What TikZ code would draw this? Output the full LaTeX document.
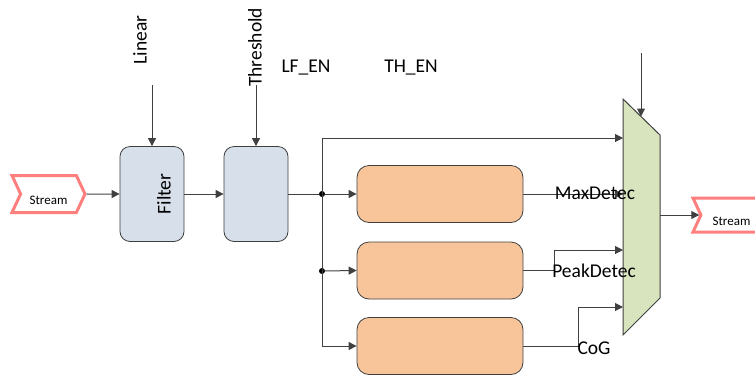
\documentclass[tikz,border=0pt]{standalone}
\usepackage{fontspec}
\setmainfont{Carlito}
\usetikzlibrary{arrows.meta, shapes.symbols}

\definecolor{lineg}{HTML}{404040}
\definecolor{filtblue}{HTML}{D6DFEA}
\definecolor{detpeach}{HTML}{F8C59B}
\definecolor{muxgreen}{HTML}{D7E4BD}
\definecolor{streamred}{HTML}{FF7F7F}

\begin{document}
\begin{tikzpicture}[x=1pt, y=-1pt,
    blk/.style={draw=lineg, fill=filtblue, rounded corners=10pt,
                minimum width=64pt, minimum height=95pt, line width=0.8pt},
    det/.style={draw=lineg, fill=detpeach, rounded corners=12pt,
                minimum width=166pt, minimum height=57pt, line width=0.8pt},
    stream/.style={signal, signal to=east, signal from=west,
                   signal pointer angle=130, draw=streamred, line width=3pt,
                   fill=white, minimum height=37pt, inner sep=2pt,
                   text height=20pt, text depth=0pt,
                   font=\fontsize{13}{15}\selectfont},
    lbl/.style={inner sep=1pt, font=\fontsize{19.5}{23}\selectfont},
    dot/.style={circle, fill=black, inner sep=0pt, minimum size=6pt},
    line/.style={draw=lineg, line width=1pt},
    arr/.style={line, -{Triangle[length=8pt, width=8pt]}}
]
\useasboundingbox (0,0) rectangle (755,376);

% Input stream and pre-processing
\node[stream, minimum width=73pt] (sin) at (48.5,194) {Stream};
\node[blk] (filter) at (152,194) {};
\node[lbl, rotate=90] (filtertxt) at (164,194) {Filter};
\node[blk] (thresh) at (256,194) {};
\node[lbl, rotate=90] (linear) at (140,40) {Linear};
\node[lbl, rotate=90, anchor=west] (threshtxt) at (255,88) {Threshold};
\coordinate (linin) at (152,85);
\coordinate (thin) at (256,85);

% Enables
\node[lbl] (lfen) at (306,68) {LF\_EN};
\node[lbl] (then) at (411,68) {TH\_EN};

% Detectors
\node[det] (maxdet) at (440,194) {};
\node[det] (peakdet) at (440,270.5) {};
\node[det] (cog) at (440,346) {};
\node[dot] (j1) at (322,194) {};
\node[dot] (j2) at (322,271) {};
\coordinate (jtop) at (322,138);
\coordinate (jbot) at (322,346);

% Mux
\coordinate (mtl) at (623,99);
\coordinate (mtr) at (660,135);
\coordinate (mbr) at (660,298);
\coordinate (mbl) at (623,335);
\draw[line, fill=muxgreen] (mtl) -- (mtr) -- (mbr) -- (mbl) -- cycle;
\coordinate (min1) at (623,138);
\coordinate (min2) at (623,194);
\coordinate (min3) at (623,250);
\coordinate (min4) at (623,307);
\coordinate (msel) at (641,53);
\coordinate (mselin) at (641,116.5);
\coordinate (mout) at (660,215);

% Output stream
\node[stream, minimum width=77pt, minimum height=34pt] (sout) at (731.5,215) {Stream};

% Connections
\draw[arr] (sin) -- (filter);
\draw[arr] (linin) -- (filter.north);
\draw[arr] (filter) -- (thresh);
\draw[arr] (thin) -- (thresh.north);
\draw[line] (thresh.east) -- (j1);
\draw[line] (jtop) -- (jbot);
\draw[arr] (jtop) -- (min1);
\draw[arr] (j1) -- (maxdet.west);
\draw[arr] (j2) -- (peakdet.west);
\draw[arr] (jbot) -- (cog.west);
\draw[arr] (maxdet.east) -- (min2);
\draw[arr] (peakdet.east) -- ++(31,0) |- (min3);
\draw[arr] (cog.east) -- ++(55,0) |- (min4);
\draw[arr] (msel) -- (mselin);
\draw[arr] (mout) -- (sout.west);

% Detector labels
\node[lbl] (maxtxt) at (595,193) {MaxDetec};
\node[lbl] (peaktxt) at (594,271) {PeakDetec};
\node[lbl] (cogtxt) at (594,348) {CoG};
\end{tikzpicture}
\end{document}
